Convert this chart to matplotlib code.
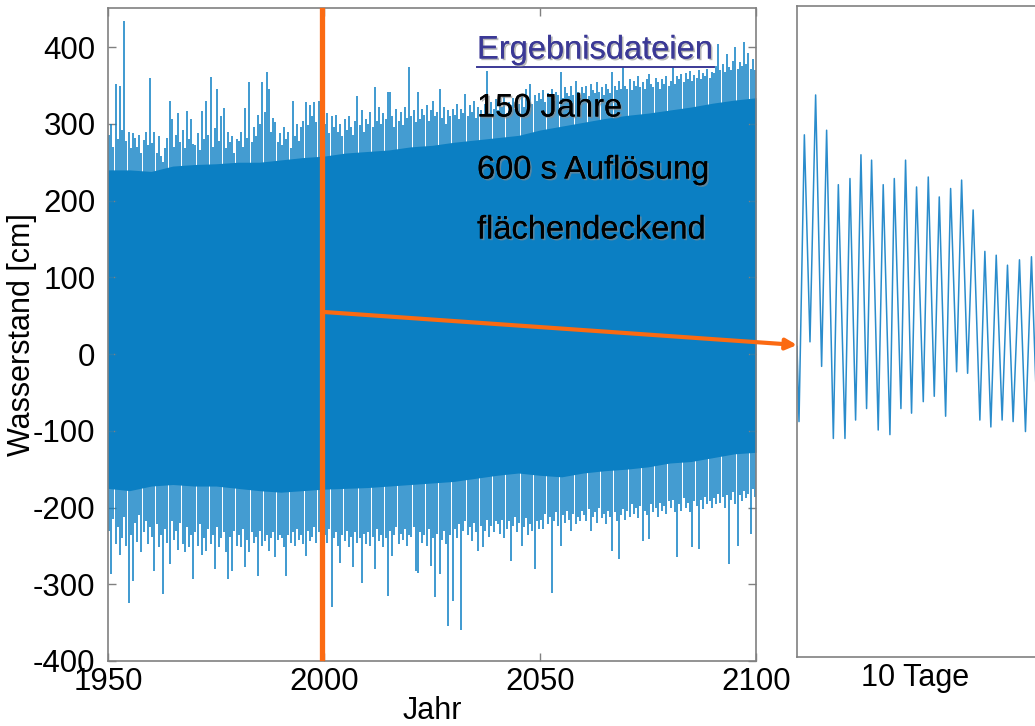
import numpy as np
import matplotlib
matplotlib.use('Agg')
import matplotlib.pyplot as plt
from matplotlib import patheffects
from matplotlib.lines import Line2D
from matplotlib.patches import FancyArrowPatch

plt.rcParams['font.family'] = ['Liberation Sans', 'DejaVu Sans']
plt.rcParams['axes.unicode_minus'] = False

# --- Daten ---
# dichter Kern der Tidekurve, alle 5 Jahre
core_years = list(range(1950, 2101, 5))
hw_core = [240, 240, 238, 245, 247, 248, 250, 250, 253, 256, 258, 262, 264, 266, 270, 272,
           276, 279, 282, 285, 292, 297, 302, 307, 311, 314, 318, 322, 327, 331, 334]
lw_core = [-175, -178, -172, -170, -172, -172, -175, -178, -180, -178, -176, -175, -174, -172,
           -170, -168, -166, -162, -158, -155, -158, -160, -155, -152, -150, -147, -142, -140,
           -135, -130, -128]

# Halbjahres-Extremwerte [cm], ab 1950.25
hw_peak = [
    285, 300, 270, 352, 280, 350, 292, 434, 278, 290, 268, 288, 282, 270, 286, 262, 279, 290, 272, 360,
    275, 290, 262, 284, 258, 250, 268, 282, 330, 306, 270, 286, 314, 276, 292, 268, 317, 280, 306, 274,
    272, 288, 266, 317, 280, 330, 286, 361, 270, 294, 345, 278, 310, 321, 268, 290, 276, 284, 262, 280,
    278, 290, 270, 321, 282, 354, 276, 296, 284, 312, 300, 354, 316, 367, 345, 290, 308, 303, 276, 288,
    272, 296, 280, 290, 268, 330, 284, 300, 278, 296, 304, 328, 298, 325, 310, 328, 302, 330, 290, 310,
    300, 314, 288, 310, 296, 312, 290, 300, 284, 306, 292, 310, 296, 286, 304, 336, 298, 318, 290, 306,
    300, 316, 296, 348, 304, 322, 300, 314, 306, 342, 341, 310, 296, 320, 304, 316, 298, 322, 308, 374,
    310, 318, 302, 341, 306, 320, 312, 325, 304, 318, 330, 310, 316, 345, 308, 322, 300, 318, 310, 320,
    312, 326, 306, 320, 314, 339, 310, 324, 316, 330, 308, 322, 318, 312, 326, 369, 314, 328, 320, 332,
    318, 330, 322, 336, 314, 328, 324, 334, 320, 330, 326, 338, 322, 345, 330, 352, 326, 338, 330, 340,
    332, 344, 328, 340, 336, 346, 330, 342, 338, 367, 334, 348, 340, 336, 350, 338, 356, 342, 334, 348,
    340, 350, 336, 352, 344, 340, 354, 342, 348, 338, 352, 346, 340, 367, 350, 344, 356, 346, 374, 350,
    346, 358, 344, 356, 350, 362, 348, 354, 346, 358, 365, 352, 348, 360, 354, 346, 358, 352, 362, 350,
    356, 374, 352, 362, 358, 365, 354, 366, 358, 369, 356, 364, 360, 370, 358, 366, 362, 372, 360, 368,
    366, 376, 404, 370, 378, 368, 391, 374, 370, 382, 400, 372, 380, 376, 407, 378, 393, 372, 384, 370,
]
lw_peak = [
    -230, -287, -215, -248, -226, -262, -240, -212, -250, -324, -236, -296, -220, -245, -210, -258, -232, -218, -248, -225,
    -238, -283, -222, -252, -236, -313, -228, -246, -274, -218, -242, -230, -255, -220, -248, -258, -226, -252, -236, -293,
    -232, -250, -222, -262, -240, -256, -228, -248, -236, -280, -226, -252, -240, -232, -258, -293, -238, -283, -230, -250,
    -236, -252, -228, -278, -242, -258, -232, -246, -238, -289, -230, -250, -244, -236, -256, -240, -232, -265, -242, -236,
    -240, -252, -289, -236, -246, -232, -250, -228, -242, -236, -248, -263, -230, -244, -238, -226, -246, -232, -240, -228,
    -236, -246, -228, -330, -240, -232, -250, -272, -236, -244, -230, -252, -238, -278, -232, -246, -240, -298, -234, -248,
    -232, -250, -238, -280, -228, -244, -236, -252, -240, -315, -230, -263, -236, -226, -248, -234, -242, -228, -250, -236,
    -238, -226, -283, -285, -232, -246, -236, -250, -228, -276, -240, -317, -234, -287, -242, -230, -248, -354, -236, -322,
    -228, -240, -222, -359, -230, -218, -236, -226, -244, -220, -232, -257, -224, -252, -230, -216, -238, -224, -232, -218,
    -222, -234, -216, -240, -228, -218, -270, -224, -212, -232, -220, -250, -226, -214, -236, -222, -230, -280, -218, -228,
    -216, -228, -208, -222, -212, -311, -218, -206, -224, -250, -210, -220, -204, -216, -230, -208, -222, -212, -218, -204,
    -210, -218, -202, -230, -212, -206, -220, -200, -214, -208, -222, -204, -212, -257, -206, -218, -267, -210, -202, -216,
    -204, -212, -196, -208, -200, -214, -198, -243, -204, -210, -241, -196, -206, -200, -212, -194, -204, -198, -208, -192,
    -200, -190, -206, -265, -196, -204, -188, -200, -194, -206, -252, -192, -198, -254, -190, -202, -186, -196, -192, -200,
    -188, -196, -182, -194, -186, -200, -184, -274, -190, -180, -196, -250, -184, -192, -178, -188, -182, -235, -176, -186,
]

# 10-Tage-Ausschnitt: Zeit der Extrema [h] und Wasserstand [cm]
tide_hours = [0, 2.2, 8.1, 14.3, 20.5, 27.1, 32.6, 40.0, 45.5, 52.8, 58.3, 64.5, 70.4, 76.6, 82.1,
              89.4, 94.9, 102.3, 107.1, 114.4, 119.5, 126.1, 131.6, 139.0, 144.5, 151.1, 156.6,
              163.6, 169.1, 175.7, 181.2, 187.8, 193.9, 201.3, 206.8, 213.4, 219.3, 225.8, 231.7,
              237.9, 244.9, 251.5, 258.1, 264.5]
tide_level = [10, -88, 286, 16, 338, -16, 292, -110, 221, -110, 229, -86, 260, -71, 253, -99, 221,
              -105, 229, -71, 253, -77, 218, -62, 231, -55, 205, -81, 216, -23, 227, -25, 188, -86,
              134, -95, 129, -86, 116, -88, 123, -101, 127, -95]

x_ticks = [1950, 2000, 2050, 2100]
y_ticks = [-400, -300, -200, -100, 0, 100, 200, 300, 400]

texts = ['150 Jahre', '600 s Auflösung', 'flächendeckend']

BLUE = '#0b7fc3'
ORANGE = '#fb6a12'
GREY = '#808080'
W, H = 1035, 726

fig = plt.figure(figsize=(W / 100, H / 100), dpi=100)

# linkes Diagramm
ax = fig.add_axes([108 / W, 1 - 661 / H, (756 - 108) / W, (661 - 8) / H])
half_years = 1950.25 + 0.5 * np.arange(len(hw_peak))
ax.fill_between(core_years, lw_core, hw_core, color=BLUE, lw=0)
ax.vlines(half_years, 0, hw_peak, color=BLUE, lw=1.1)
ax.vlines(half_years, lw_peak, 0, color=BLUE, lw=1.1)
ax.set_xlim(1950, 2100)
ax.set_ylim(-400, 451)
ax.set_xticks(x_ticks)
ax.set_yticks(y_ticks)
ax.tick_params(direction='in', length=6, width=1, color=GREY, top=True, right=True,
               labelsize=22.5)
ax.tick_params(axis='y', pad=9)
ax.tick_params(axis='x', pad=4)
for s in ax.spines.values():
    s.set_color(GREY)
    s.set_linewidth(1.2)
ax.set_xlabel('Jahr', fontsize=22, va='center')
ax.xaxis.set_label_coords(0.5, -50 / 653)
ax.set_ylabel('Wasserstand [cm]', fontsize=22, va='center')
ax.yaxis.set_label_coords(-86 / 648, 0.5)

# orange Markierung bei 2000
ax.plot([1999.5, 1999.5], [448, -396], color=ORANGE, lw=3.8, clip_on=False, zorder=4)

# rechtes Diagramm (10 Tage)
ax2 = fig.add_axes([797 / W, 1 - 657 / H, (1045 - 797) / W, (657 - 6) / H])
ax2.plot(tide_hours, tide_level, color='#2a8ccc', lw=1.1)
ax2.set_xlim(0, 273)
ax2.set_ylim(-395, 454)
ax2.set_xticks([])
ax2.set_yticks([])
for s in ax2.spines.values():
    s.set_color(GREY)
    s.set_linewidth(1.2)
fig.text(915 / W, 1 - 678 / H, '10 Tage', fontsize=22, ha='center', va='center')

# Pfeil
arrow = FancyArrowPatch((324 / W, 1 - 312 / H), (797 / W, 1 - 345 / H),
                        transform=fig.transFigure, arrowstyle='-|>', mutation_scale=16,
                        color=ORANGE, lw=3, shrinkA=0, shrinkB=0, zorder=6)
fig.add_artist(arrow)

# Beschriftung
shadow = [patheffects.withSimplePatchShadow(offset=(1.2, -1.2), shadow_rgbFace='#8a8a8a', alpha=0.6),
          patheffects.Normal()]
TITLE_C = '#3b3996'
fig.text(477 / W, 1 - 50 / H, 'Ergebnisdateien', fontsize=23.5, color=TITLE_C,
         va='center', ha='left', path_effects=shadow, zorder=7)
fig.add_artist(Line2D([477 / W, 714 / W], [1 - 67 / H, 1 - 67 / H], color=TITLE_C, lw=1.4,
                      transform=fig.transFigure, zorder=7))
for txt, yp in zip(texts, [108, 170, 230]):
    fig.text(477 / W, 1 - yp / H, txt, fontsize=23.5, color='black', va='center', ha='left',
             path_effects=shadow, zorder=7)

fig.savefig('out.png', dpi=100)
